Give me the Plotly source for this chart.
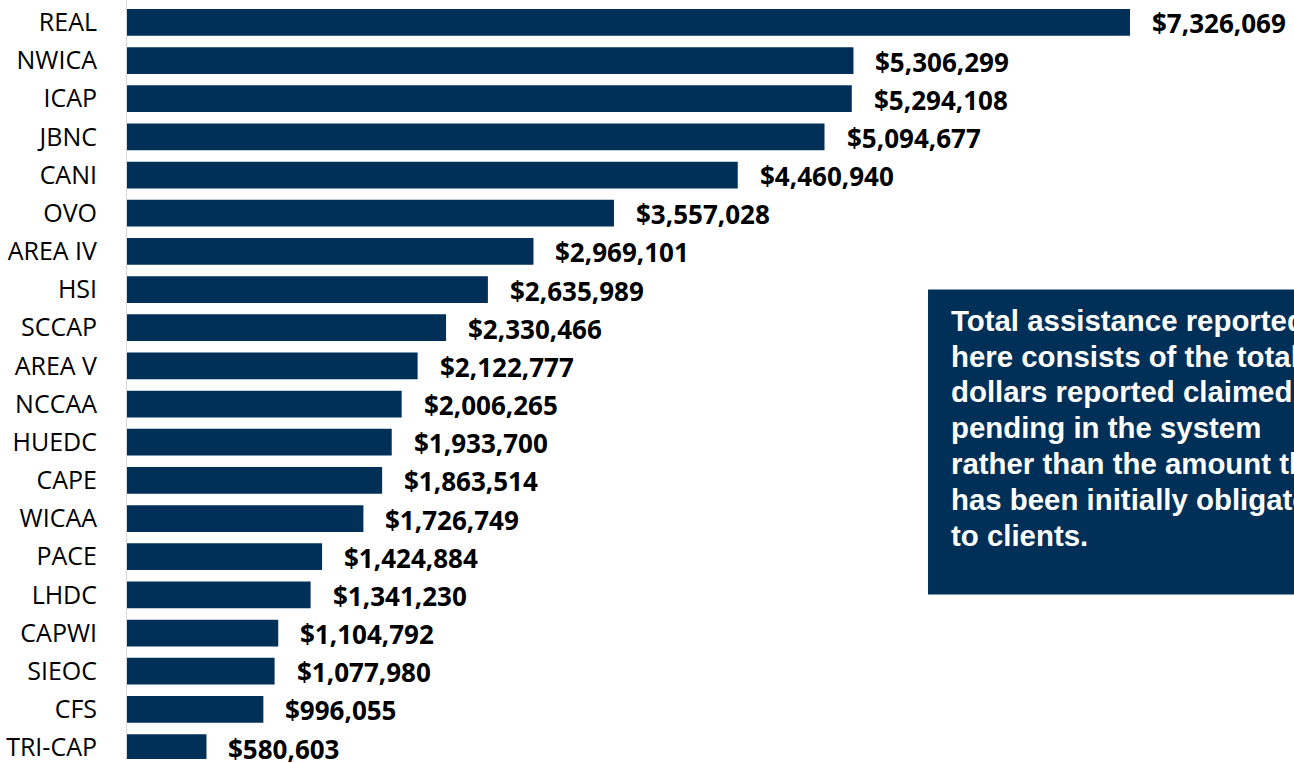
import plotly.graph_objects as go

categories = ["REAL", "NWICA", "ICAP", "JBNC", "CANI", "OVO", "AREA IV", "HSI", "SCCAP",
              "AREA V", "NCCAA", "HUEDC", "CAPE", "WICAA", "PACE", "LHDC", "CAPWI",
              "SIEOC", "CFS", "TRI-CAP"]
values = [7326069, 5306299, 5294108, 5094677, 4460940, 3557028, 2969101, 2635989, 2330466,
          2122777, 2006265, 1933700, 1863514, 1726749, 1424884, 1341230, 1104792,
          1077980, 996055, 580603]
note_lines = ["Total assistance reported", "here consists of the total",
              "dollars reported claimed or", "pending in the system",
              "rather than the amount that", "has been initially obligated",
              "to clients."]

NAVY = "#003057"
H = 763

fig = go.Figure()
fig.add_trace(go.Bar(
    y=categories, x=values, orientation="h",
    marker=dict(color=NAVY, line=dict(width=0)),
    hoverinfo="skip",
))

for c, v in zip(categories, values):
    fig.add_annotation(
        x=v, y=c, xref="x", yref="y", text="<b>${:,}</b>".format(v),
        showarrow=False, xanchor="left", yanchor="middle", xshift=20, yshift=-1,
        font=dict(family="Open Sans", size=26, color="#000000"),
    )

fig.add_shape(type="rect", xref="paper", yref="paper",
              x0=0.6864, x1=1.2, y0=0.2167, y1=0.6186,
              fillcolor=NAVY, line=dict(width=0), layer="above")
for i, line in enumerate(note_lines):
    fig.add_annotation(
        xref="paper", yref="paper", x=0.7043, y=1 - (322 + 36 * i) / H,
        xanchor="left", yanchor="middle", align="left", showarrow=False,
        text="<b>" + line + "</b>",
        font=dict(family="Liberation Sans", size=29.4, color="#ffffff"),
    )

fig.update_layout(
    width=1294, height=H,
    margin=dict(l=127, r=0, t=0, b=0),
    paper_bgcolor="white", plot_bgcolor="white",
    bargap=0.3, showlegend=False,
    xaxis=dict(range=[0, 8.524e6], visible=False, showgrid=False, zeroline=False),
    yaxis=dict(
        range=[19.30, -0.586], showgrid=False, zeroline=False,
        showline=True, linecolor="#d9d9d9", linewidth=1,
        ticks="", ticklabelstandoff=24,
        tickfont=dict(family="Open Sans", size=25, color="#000000"),
    ),
)

fig.write_html("out.html", config={"displayModeBar": False},
               post_script="document.body.style.margin='0';document.body.style.overflow='hidden';")
